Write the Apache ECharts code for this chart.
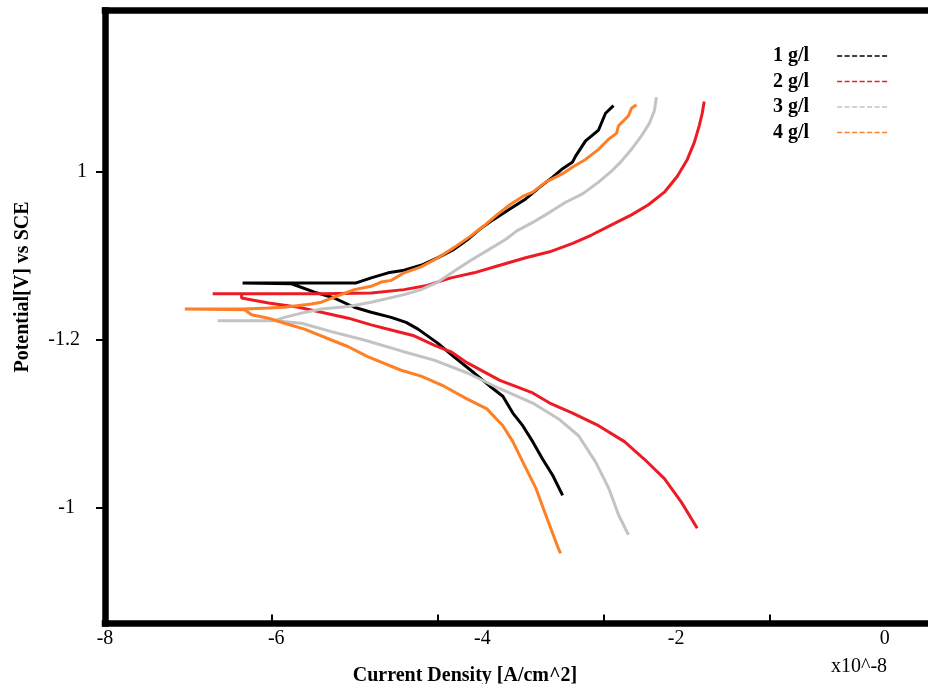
<!DOCTYPE html>
<html><head><meta charset="utf-8">
<script src="https://cdn.jsdelivr.net/npm/echarts@6/dist/echarts.min.js"></script>
<style>html,body{margin:0;padding:0;background:#fff}#c{width:928px;height:684px}</style>
</head><body><div id="c"></div>
<script>
// Legend names
const seriesNames = ['1 g/l', '2 g/l', '3 g/l', '4 g/l'];

// [current density (x10^-8), potential] pairs, cathodic end -> Ecorr tip -> anodic end
const curve1 = [[-2.495,-1.385],[-2.615,-1.361],[-2.735,-1.342],[-2.855,-1.321],[-2.975,-1.302],[-3.094,-1.287],[-3.214,-1.267],[-3.370,-1.255],[-3.562,-1.239],[-3.802,-1.220],[-3.994,-1.204],[-4.234,-1.187],[-4.378,-1.179],[-4.558,-1.173],[-4.798,-1.167],[-5.001,-1.161],[-5.241,-1.150],[-5.481,-1.143],[-5.757,-1.133],[-6.345,-1.132],[-5.757,-1.132],[-4.978,-1.132],[-4.798,-1.126],[-4.594,-1.120],[-4.402,-1.117],[-4.198,-1.111],[-3.994,-1.102],[-3.802,-1.092],[-3.646,-1.081],[-3.490,-1.068],[-3.334,-1.057],[-3.130,-1.044],[-2.939,-1.032],[-2.771,-1.018],[-2.615,-1.006],[-2.495,-0.996],[-2.375,-0.988],[-2.339,-0.981],[-2.219,-0.963],[-2.063,-0.950],[-1.979,-0.930],[-1.883,-0.921]];

const curve2 = [[-0.876,-1.424],[-1.067,-1.393],[-1.271,-1.365],[-1.511,-1.342],[-1.751,-1.321],[-2.063,-1.302],[-2.375,-1.287],[-2.651,-1.275],[-2.855,-1.263],[-3.250,-1.248],[-3.646,-1.227],[-3.838,-1.214],[-4.042,-1.206],[-4.282,-1.195],[-4.558,-1.188],[-4.798,-1.182],[-5.073,-1.174],[-5.397,-1.167],[-5.673,-1.161],[-6.033,-1.156],[-6.357,-1.150],[-6.357,-1.145],[-6.705,-1.145],[-5.397,-1.145],[-4.798,-1.144],[-4.402,-1.140],[-4.126,-1.135],[-3.838,-1.126],[-3.562,-1.120],[-3.250,-1.111],[-2.939,-1.102],[-2.651,-1.095],[-2.375,-1.085],[-2.147,-1.075],[-1.907,-1.063],[-1.667,-1.051],[-1.463,-1.039],[-1.271,-1.024],[-1.115,-1.005],[-0.995,-0.985],[-0.912,-0.965],[-0.852,-0.945],[-0.816,-0.930],[-0.792,-0.916]];

const curve3 = [[-1.703,-1.432],[-1.823,-1.408],[-1.943,-1.376],[-2.099,-1.345],[-2.303,-1.314],[-2.543,-1.294],[-2.855,-1.275],[-3.250,-1.258],[-3.646,-1.239],[-4.042,-1.224],[-4.438,-1.213],[-4.882,-1.200],[-5.277,-1.190],[-5.637,-1.180],[-5.961,-1.177],[-6.645,-1.177],[-5.961,-1.177],[-5.841,-1.173],[-5.637,-1.168],[-5.397,-1.163],[-5.073,-1.160],[-4.798,-1.155],[-4.402,-1.146],[-4.198,-1.140],[-3.994,-1.131],[-3.802,-1.118],[-3.598,-1.105],[-3.394,-1.093],[-3.178,-1.080],[-3.046,-1.070],[-2.855,-1.060],[-2.651,-1.048],[-2.459,-1.036],[-2.255,-1.026],[-2.063,-1.012],[-1.907,-0.999],[-1.787,-0.987],[-1.667,-0.973],[-1.547,-0.957],[-1.451,-0.942],[-1.391,-0.927],[-1.367,-0.911]];

const curve4 = [[-2.519,-1.454],[-2.543,-1.449],[-2.699,-1.408],[-2.819,-1.376],[-2.975,-1.345],[-3.094,-1.321],[-3.214,-1.302],[-3.406,-1.282],[-3.646,-1.270],[-3.922,-1.255],[-4.198,-1.243],[-4.438,-1.236],[-4.834,-1.220],[-5.073,-1.208],[-5.277,-1.200],[-5.601,-1.187],[-5.841,-1.180],[-6.033,-1.174],[-6.237,-1.170],[-6.321,-1.164],[-7.040,-1.163],[-6.321,-1.163],[-6.033,-1.162],[-5.841,-1.161],[-5.517,-1.157],[-5.397,-1.155],[-5.241,-1.149],[-5.001,-1.140],[-4.798,-1.136],[-4.678,-1.131],[-4.558,-1.129],[-4.402,-1.120],[-4.198,-1.113],[-3.994,-1.102],[-3.802,-1.090],[-3.598,-1.076],[-3.442,-1.064],[-3.286,-1.051],[-3.130,-1.039],[-2.975,-1.029],[-2.855,-1.024],[-2.699,-1.012],[-2.495,-1.002],[-2.375,-0.994],[-2.219,-0.985],[-2.063,-0.973],[-1.943,-0.961],[-1.847,-0.954],[-1.823,-0.945],[-1.703,-0.933],[-1.667,-0.924],[-1.607,-0.920]];

// Axis ticks and labels
const xTickValues = [-6, -4, -2, 0];
const xLabelValues = [-8, -5.94, -3.46, -1.13, 1.38];
const xTickLabels = ['-8', '-6', '-4', '-2', '0'];
const yTickValues = [-1.4, -1.2, -1.0];
const yTickLabels = ['-1', '-1.2', '1'];

const colors = ['#000000', '#ED1C24', '#C3C3C3', '#FF7F27'];
const curves = [curve1, curve2, curve3, curve4];
const serif = 'Liberation Serif';
const frame = {color: '#000', width: 6.5, cap: 'square'};

function lookup(vals, v) {
  for (let i = 0; i < vals.length; i++) if (Math.abs(vals[i] - v) < 1e-6) return i;
  return -1;
}

const chart = echarts.init(document.getElementById('c'), null, {renderer: 'canvas'});
chart.setOption({
  animation: false,
  backgroundColor: '#fff',
  title: {
    text: 'x10^-8', left: 826, top: 652,
    textStyle: {fontFamily: serif, fontSize: 20, fontWeight: 'normal', color: '#000'}
  },
  legend: {
    data: seriesNames,
    orient: 'vertical', align: 'right',
    left: 768, top: 41,
    itemWidth: 52, itemHeight: 14, itemGap: 5.5,
    textStyle: {fontFamily: serif, fontSize: 20, fontWeight: 'bold', color: '#000', padding: [0, 23, 0, 0]},
    itemStyle: {opacity: 0},
    lineStyle: {type: [5, 2.5], width: 1.5}
  },
  grid: {left: 105, top: 10.5, right: 0, height: 613, show: false, containLabel: false, outerBoundsMode: 'none'},
  xAxis: [{
    type: 'value', min: -8, max: 1.9, position: 'bottom',
    axisLine: {show: true, onZero: false, lineStyle: frame}, splitLine: {show: false},
    axisTick: {show: true, inside: true, length: 9, lineStyle: {width: 2, color: '#000'}, customValues: xTickValues},
    axisLabel: {
      customValues: xLabelValues, margin: 5,
      fontFamily: serif, fontSize: 20, color: '#000',
      formatter: v => { const i = lookup(xLabelValues, v); return i >= 0 ? xTickLabels[i] : ''; }
    },
    name: 'Current Density [A/cm^2]', nameLocation: 'middle', nameGap: 42,
    nameTextStyle: {fontFamily: serif, fontSize: 20, fontWeight: 'bold', color: '#000', padding: [0, 103, 0, 0]}
  }, {
    type: 'value', min: -8, max: 1.9, position: 'top',
    axisLine: {show: true, onZero: false, lineStyle: frame},
    axisTick: {show: false}, axisLabel: {show: false}, splitLine: {show: false}
  }],
  yAxis: {
    type: 'value', min: -1.5375, max: -0.8077, position: 'left',
    axisLine: {show: true, onZero: false, lineStyle: frame}, splitLine: {show: false},
    axisTick: {show: true, length: 9, lineStyle: {width: 2, color: '#000'}, customValues: yTickValues},
    axisLabel: {
      customValues: yTickValues, margin: 18,
      fontFamily: serif, fontSize: 20, color: '#000',
      formatter: v => { const i = lookup(yTickValues, v); return i >= 0 ? '{r' + i + '|' + yTickLabels[i] + '}' : ''; },
      rich: {
        r0: {fontFamily: serif, fontSize: 20, color: '#000', padding: [0, 12, 0, 0]},
        r1: {fontFamily: serif, fontSize: 20, color: '#000', padding: [0, 7, 0, 0]},
        r2: {fontFamily: serif, fontSize: 20, color: '#000', padding: [0, 0, 0, 0]}
      }
    },
    name: 'Potential[V] vs SCE', nameLocation: 'middle', nameGap: 72,
    nameTextStyle: {fontFamily: serif, fontSize: 20, fontWeight: 'bold', color: '#000', padding: [0, 0, 0, 60]}
  },
  series: curves.map((c, i) => ({
    name: seriesNames[i], type: 'line', data: c,
    xAxisIndex: 0, yAxisIndex: 0,
    showSymbol: false, symbol: 'none', smooth: false,
    lineStyle: {color: colors[i], width: 3},
    itemStyle: {color: colors[i]}
  }))
});
</script>
</body></html>
